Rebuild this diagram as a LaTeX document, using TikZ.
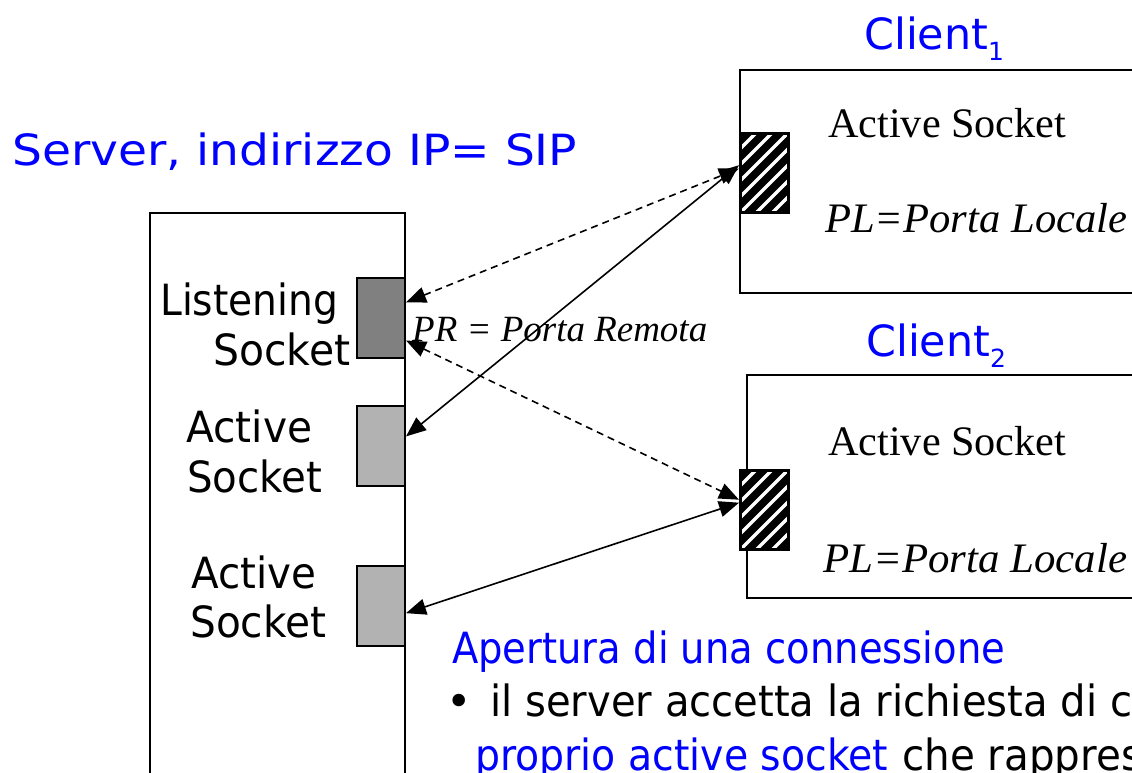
\documentclass[tikz,border=0pt]{standalone}
\usepackage{fontspec}
\setmainfont{Liberation Serif}
\newfontfamily\comic{DejaVu Sans}
\usetikzlibrary{arrows.meta}
\definecolor{ttblue}{RGB}{0,0,255}
\definecolor{lsgray}{RGB}{128,128,128}
\definecolor{asgray}{RGB}{178,178,178}
\newcommand\fitw[2]{\resizebox{#1}{\height}{#2}}
\begin{document}
\begin{tikzpicture}[x=1pt,y=-1pt,
  frame/.style={draw, line width=2pt},
  sock/.style={draw, line width=2pt, inner sep=0pt, minimum width=48pt, minimum height=80pt},
  lsock/.style={sock, fill=lsgray},
  asock/.style={sock, fill=asgray},
  hsock/.style={sock, fill=black, path picture={
      \foreach \k in {-7,...,4}{
        \draw[white, line width=3.5pt] ([xshift=\k*16pt]path picture bounding box.south west) -- ++(130pt,130pt);}
      \draw[line width=4pt] (path picture bounding box.south west) rectangle (path picture bounding box.north east);}},
  stxt/.style={inner sep=0pt, anchor=base west, font=\comic\fontsize{43pt}{50pt}\selectfont},
  btxt/.style={stxt, text=ttblue},
  rtxt/.style={inner sep=0pt, anchor=base west, font=\itshape\fontsize{42pt}{50pt}\selectfont},
  utxt/.style={inner sep=0pt, anchor=base west, font=\fontsize{42pt}{50pt}\selectfont},
  conn/.style={line width=1.6pt, {Triangle[length=20pt,width=16pt]}-{Triangle[length=20pt,width=16pt]}},
  dconn/.style={conn, dash pattern=on 7pt off 5pt}
]
\useasboundingbox (0,0) rectangle (1132,773);
\clip (0,0) rectangle (1132,773);

% server
\path[frame] (150,213) coordinate (srvnw) rectangle (405,800) coordinate (srvse);
\node[lsock] (ls) at (381,318) {};
\node[asock] (a1) at (381,445.5) {};
\node[asock] (a2) at (381,606) {};

% clients
\path[frame] (1140,70) -- (740,70) -- (740,293) -- (1140,293);
\path[frame] (1140,375) -- (747,375) -- (747,598) -- (1140,598);
\node[hsock, minimum width=49pt] (c1s) at (764.5,173) {};
\node[hsock, minimum width=49pt] (c2s) at (764.5,510) {};

% titles
\node[btxt] (srvt) at (12,165) {\fitw{565pt}{Server, indirizzo IP= SIP}};
\node[btxt] (c1t) at (864,50) {\fitw{124pt}{Client}\raisebox{-11pt}{\fontsize{25pt}{25pt}\selectfont 1}};
\node[btxt] (c2t) at (866,356) {\fitw{124pt}{Client}\raisebox{-11pt}{\fontsize{25pt}{25pt}\selectfont 2}};

% server labels
\node[stxt] (lst1) at (160,315) {\fitw{178pt}{Listening}};
\node[stxt] (lst2) at (213,365) {\fitw{137pt}{Socket}};
\node[stxt] (as1a) at (186,442) {\fitw{126pt}{Active}};
\node[stxt] (as1b) at (187,492) {\fitw{135pt}{Socket}};
\node[stxt] (as2a) at (191,588) {\fitw{125pt}{Active}};
\node[stxt] (as2b) at (190,637) {\fitw{136pt}{Socket}};

% client labels
\node[utxt] (c1a) at (828,138) {\fitw{238pt}{Active Socket}};
\node[rtxt] (c1p) at (825,232) {\fitw{302pt}{PL=Porta Locale}};
\node[utxt] (c2a) at (828,455) {\fitw{238pt}{Active Socket}};
\node[rtxt] (c2p) at (823,572) {\fitw{304pt}{PL=Porta Locale}};
\node[rtxt, font=\itshape\fontsize{37pt}{44pt}\selectfont] (pr) at (412,341) {\fitw{295pt}{PR = Porta Remota}};

% connectors
\draw[dconn] (ls.32) -- (c1s.170);
\draw[dconn] (ls.-42) -- (c2s.158);
\draw[conn] (a1.20) -- (c1s.163);
\draw[conn] (a2.-16) -- (c2s.164);

% text block
\node[btxt] (ap) at (452,663) {\fitw{553pt}{Apertura di una connessione}};
\node[stxt] (bul) at (446,716) {•};
\node[stxt] (l1) at (490,716) {\fitw{642pt}{il server accetta la richiesta di c}};
\node[btxt] (l2a) at (475,770) {\fitw{413pt}{proprio active socket}};
\node[stxt] (l2b) at (902,770) {\fitw{240pt}{che rappres}};
\end{tikzpicture}
\end{document}
